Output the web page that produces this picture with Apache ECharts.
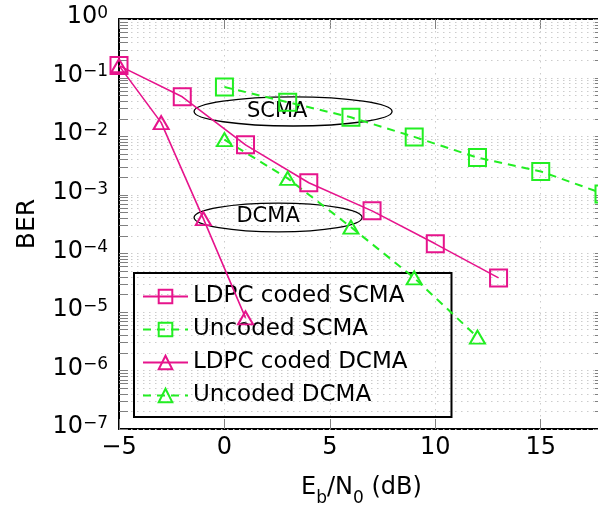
<!DOCTYPE html>
<html><head><meta charset="utf-8">
<script src="https://cdn.jsdelivr.net/npm/echarts@6/dist/echarts.min.js"></script>
<style>html,body{margin:0;padding:0;background:#fff}#c{width:598px;height:506px}</style>
</head><body><div id="c"></div>
<script>
// ---- data ----
const seriesNames = ['LDPC coded SCMA', 'Uncoded SCMA', 'LDPC coded DCMA', 'Uncoded DCMA'];
const ldpcScmaX = [-5, -2, 1, 4, 7, 10, 13];
const ldpcScmaY = [0.16, 0.047, 0.0071, 0.0016, 5.3e-4, 1.45e-4, 3.8e-5];
const uncScmaX = [0, 3, 6, 9, 12, 15, 18];
const uncScmaY = [0.069, 0.038, 0.021, 0.0097, 0.0043, 0.0025, 0.00103];
const ldpcDcmaX = [-5, -3, -1, 1];
const ldpcDcmaY = [0.16, 0.017, 3.9e-4, 7.9e-6];
const uncDcmaX = [0, 3, 6, 9, 12];
const uncDcmaY = [0.0087, 0.0019, 2.8e-4, 3.8e-5, 3.7e-6];
const xTicks = [-5, 0, 5, 10, 15];
const yDecades = [1e-7, 1e-6, 1e-5, 1e-4, 1e-3, 1e-2, 1e-1, 1];
const minorMultipliers = [2, 3, 4, 5, 6, 7, 8, 9];
const annotText = ['SCMA', 'DCMA'];
const ellipseXRange = [[-1.44, 7.95], [-1.44, 6.53]];
const ellipseYRange = [[0.0467, 0.0149], [7.2e-4, 2.32e-4]];
const annotPos = [[2.5, 0.0259], [2.07, 4.18e-4]];

// ---- styles ----
const MAG = '#e6148c', GRN = '#22ee22';
const FONT = '"DejaVu Sans", sans-serif';
const xMin = xTicks[0], xMax = 18, xStep = xTicks[1] - xTicks[0];

function zip(xs, ys) { return xs.map((x, i) => [x, ys[i]]); }
function mkSeries(name, xs, ys, color, symbol, dashed) {
  return {
    name, type: 'line', data: zip(xs, ys), z: 5,
    symbol, symbolSize: symbol === 'rect' ? 17 : [15, 13],
    showAllSymbol: true, clip: true,
    itemStyle: { color: 'transparent', borderColor: color, borderWidth: 2 },
    lineStyle: { color, width: dashed ? 2 : 1.6, type: dashed ? [8, 6] : 'solid' },
    emphasis: { disabled: true }
  };
}

const gridLines = [];
yDecades.forEach(d => {
  gridLines.push([xMin, d, 1]);
  if (d < 1) minorMultipliers.forEach(m => gridLines.push([xMin, d * m, 0]));
});

function supLabel(v) {
  const e = Math.round(Math.log10(v));
  const s = e < 0 ? '\u2212' + Math.abs(e) : '' + e;
  return '{n|10}{s|' + s + '}';
}

const chart = echarts.init(document.getElementById('c'), null, { renderer: 'canvas' });
chart.setOption({
  animation: false,
  backgroundColor: '#fff',
  grid: { left: 119, top: 19, width: 485, height: 410, outerBoundsMode: 'none', containLabel: false },
  legend: {
    data: seriesNames, orient: 'vertical', left: 134, top: 273,
    itemWidth: 45, itemHeight: 17, itemGap: 8,
    padding: [11, 44, 9, 8],
    borderColor: '#000', borderWidth: 2, backgroundColor: 'transparent',
    textStyle: { fontSize: 23, fontFamily: FONT, color: '#000', lineHeight: 25 },
    selectedMode: false
  },
  xAxis: [{
    type: 'value', min: xMin, max: xMax, interval: xStep, position: 'bottom',
    axisLine: { onZero: false, lineStyle: { color: '#000', width: 2 } },
    axisTick: { inside: true, length: 10, lineStyle: { color: '#808080', width: 1 } },
    axisLabel: { fontSize: 24, fontFamily: FONT, color: '#000', margin: 7, showMaxLabel: false,
      formatter: v => v < 0 ? '\u2212' + Math.abs(v) : '' + v },
    splitLine: { show: true, lineStyle: { color: '#cccccc', width: 1, type: [1.5, 4.5] } },
    name: '{n|E}{b|b}{n|/N}{b|0}{n| (dB)}', nameLocation: 'middle', nameGap: 47,
    nameTextStyle: { fontFamily: FONT, color: '#000', fontSize: 24,
      rich: { n: { fontSize: 24, fontFamily: FONT, verticalAlign: 'top', lineHeight: 28 },
              b: { fontSize: 17, fontFamily: FONT, verticalAlign: 'top', lineHeight: 17, padding: [14, 0, 0, 0] } } }
  }, {
    type: 'value', min: xMin, max: xMax, interval: xStep, position: 'top',
    axisLine: { onZero: false, lineStyle: { color: '#000', width: 2 } },
    axisTick: { inside: true, length: 10, lineStyle: { color: '#808080', width: 1 } },
    axisLabel: { show: false }, splitLine: { show: false }
  }],
  yAxis: [{
    type: 'log', logBase: 10, min: yDecades[0], max: yDecades[yDecades.length - 1], splitNumber: 7, position: 'left',
    axisLine: { onZero: false, lineStyle: { color: '#000', width: 2 } },
    axisTick: { show: false }, minorTick: { show: false },
    axisLabel: { margin: 11, color: '#000', formatter: supLabel,
      rich: { n: { fontSize: 24, fontFamily: FONT, color: '#000', verticalAlign: 'top', lineHeight: 28 },
              s: { fontSize: 17, fontFamily: FONT, color: '#000', verticalAlign: 'top', lineHeight: 17 } } },
    splitLine: { show: false },
    name: 'BER', nameLocation: 'middle', nameGap: 79,
    nameTextStyle: { fontSize: 25, fontFamily: FONT, color: '#000' }
  }, {
    type: 'log', logBase: 10, min: yDecades[0], max: yDecades[yDecades.length - 1], position: 'right',
    axisLine: { onZero: false, lineStyle: { color: '#000', width: 2 } },
    axisTick: { show: false }, axisLabel: { show: false }, splitLine: { show: false }
  }],
  series: [
    {
      name: 'grid', type: 'custom', data: gridLines, z: 1, silent: true,
      encode: { x: 0, y: 1 },
      renderItem(params, api) {
        const cs = params.coordSys;
        const y = Math.round(api.coord([api.value(0), api.value(1)])[1]) + 0.5;
        const tl = 9;
        return { type: 'group', children: [
          { type: 'line', shape: { x1: cs.x, y1: y, x2: cs.x + cs.width, y2: y },
            style: { stroke: '#cccccc', lineWidth: 1, lineDash: [1.5, 4.5] } },
          { type: 'line', shape: { x1: cs.x, y1: y, x2: cs.x + tl, y2: y },
            style: { stroke: '#808080', lineWidth: 1 } },
          { type: 'line', shape: { x1: cs.x + cs.width - tl, y1: y, x2: cs.x + cs.width, y2: y },
            style: { stroke: '#808080', lineWidth: 1 } }
        ] };
      }
    },
    {
      name: 'annot', type: 'custom', z: 4, silent: true,
      data: annotText.map((t, i) => [ellipseXRange[i][0], ellipseXRange[i][1], ellipseYRange[i][0], ellipseYRange[i][1], annotPos[i][0], annotPos[i][1]]),
      encode: { x: [0, 1, 4], y: [2, 3, 5] },
      renderItem(params, api) {
        const p1 = api.coord([api.value(0), api.value(2)]);
        const p2 = api.coord([api.value(1), api.value(3)]);
        const pt = api.coord([api.value(4), api.value(5)]);
        return { type: 'group', children: [
          { type: 'ellipse', shape: { cx: (p1[0] + p2[0]) / 2, cy: (p1[1] + p2[1]) / 2,
              rx: Math.abs(p2[0] - p1[0]) / 2, ry: Math.abs(p2[1] - p1[1]) / 2 },
            style: { fill: 'none', stroke: '#000', lineWidth: 1.3 } },
          { type: 'text', x: pt[0], y: pt[1],
            style: { text: annotText[params.dataIndex], fill: '#000', font: '21px ' + FONT,
              align: 'center', verticalAlign: 'middle' } }
        ] };
      }
    },
    mkSeries(seriesNames[0], ldpcScmaX, ldpcScmaY, MAG, 'rect', false),
    mkSeries(seriesNames[1], uncScmaX, uncScmaY, GRN, 'rect', true),
    mkSeries(seriesNames[2], ldpcDcmaX, ldpcDcmaY, MAG, 'triangle', false),
    mkSeries(seriesNames[3], uncDcmaX, uncDcmaY, GRN, 'triangle', true)
  ]
});
</script></body></html>
